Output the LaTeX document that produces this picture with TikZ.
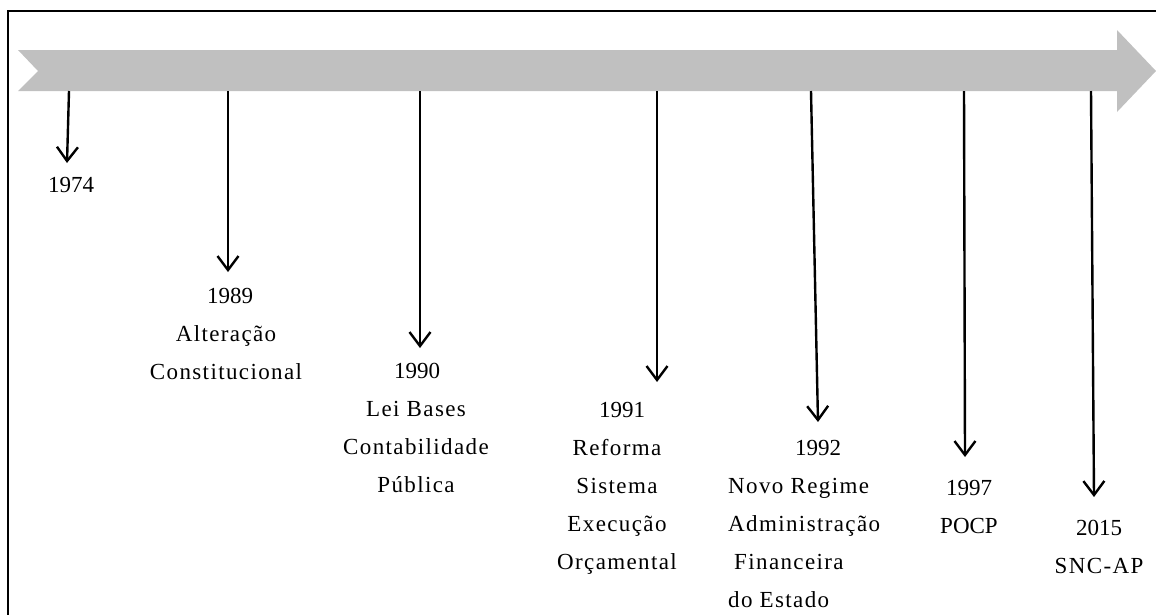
\documentclass[tikz,border=0pt]{standalone}
\usepackage{fontspec}
\setmainfont{Liberation Serif}
\newfontfamily\spacedfont[LetterSpace=6]{Liberation Serif}
\usetikzlibrary{arrows.meta}
\newcommand{\sw}[1]{{\spacedfont #1}}
\tikzset{
  evarrow/.style={line width=2.4pt, -{Straight Barb[length=14pt,width=21pt,line width=2.4pt]}},
  evtext/.style={anchor=north, inner sep=0pt, align=center, font=\fontsize{23}{38}\selectfont},
}
\begin{document}
\begin{tikzpicture}[x=1pt,y=-1pt]
\useasboundingbox (0,0) rectangle (1156,614);
% frame
\draw[line width=2.2pt] (8,640) -- (8,11) -- (1170,11);
% timeline band
\fill[fill={rgb,255:red,192;green,192;blue,192}]
  (18,50) -- (1117,50) -- (1117,30) -- (1156,71) -- (1117,112) -- (1117,91) -- (18,91) -- (38,71) -- cycle;
% start points
\coordinate (s1) at (69,91);
\coordinate (s2) at (228,91);
\coordinate (s3) at (420,91);
\coordinate (s4) at (657,91);
\coordinate (s5) at (811,91);
\coordinate (s6) at (964,91);
\coordinate (s7) at (1091,91);
% end points
\coordinate (e1) at (67,163);
\coordinate (e2) at (228,272);
\coordinate (e3) at (420,348);
\coordinate (e4) at (657,382);
\coordinate (e5) at (818,422);
\coordinate (e6) at (965,457);
\coordinate (e7) at (1094,497);
\foreach \i in {1,...,7} \draw[evarrow] (s\i) -- (e\i);
% labels
\node[evtext] (t1) at (71,177) {1974};
\node[evtext] (t2) at (226,288) {\hspace*{8pt}1989\\\sw{Alteração}\\\sw{Constitucional}};
\node[evtext] (t3) at (416,363) {\hspace*{2pt}1990\\\sw{Lei Bases}\\\sw{Contabilidade}\\\sw{Pública}};
\node[evtext] (t4) at (617,402) {\hspace*{10pt}1991\\\sw{Reforma}\\\sw{Sistema}\\\sw{Execução}\\\sw{Orçamental}};
\node[evtext, align=left, anchor=north west] (t5) at (728,440) {\hspace*{67pt}1992\\\sw{Novo Regime}\\\sw{Administração}\\\hspace*{6pt}\sw{Financeira}\\\sw{do Estado}};
\node[evtext] (t6) at (969,480) {1997\\POCP};
\node[evtext] (t7) at (1099,520) {2015\\\sw{SNC-AP}};
\end{tikzpicture}
\end{document}
